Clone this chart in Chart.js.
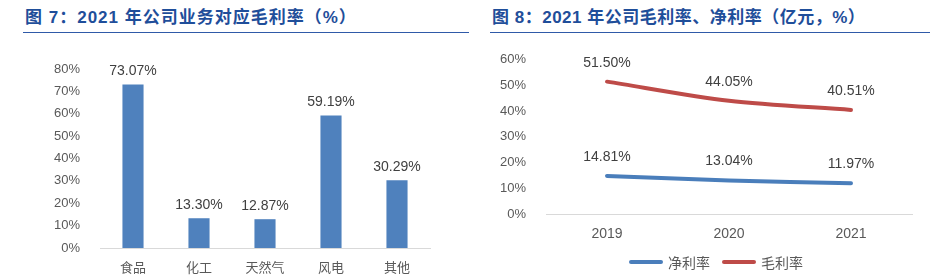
<!DOCTYPE html>
<html>
<head>
<meta charset="utf-8">
<script src="https://cdn.jsdelivr.net/npm/chart.js@4"></script>
<style>
  body { margin: 0; width: 930px; height: 277px; background: #fff; position: relative; overflow: hidden;
         font-family: "Liberation Sans", "Noto Sans CJK SC", sans-serif; }
  .title { position: absolute; top: 3px; font-size: 17px; font-weight: bold; color: #1F4E9A; letter-spacing: 1px;
           border-bottom: 1.5px solid #2F5AA8; padding: 0 0 4px 2px; white-space: nowrap; }
  .box { position: absolute; top: 40px; height: 237px; }
  .leg { position: absolute; top: 252px; font: 14px "Noto Sans CJK SC", sans-serif; color: #595959; line-height: 20px; }
  .leg i { position: absolute; top: 8px; width: 34px; height: 4px; border-radius: 2px; }
</style>
</head>
<body>
<div class="title" style="left:23px; width:444px;">图 7：2021 年公司业务对应毛利率（%）</div>
<div class="title" style="left:490px; width:440px; letter-spacing:0.5px;">图 8：2021 年公司毛利率、净利率（亿元，%）</div>
<div class="box" style="left:0; width:470px;"><canvas id="bar"></canvas></div>
<div class="box" style="left:470px; width:460px;"><canvas id="line"></canvas></div>
<div class="leg" id="leg" style="left:0; width:930px;"></div>
<script>
// business segments, gross margin 2021 (%)
const segments = ["食品", "化工", "天然气", "风电", "其他"];
const segMargin = [73.07, 13.30, 12.87, 59.19, 30.29];

// company margins by year (%)
const years = ["2019", "2020", "2021"];
const netMargin = [14.81, 13.04, 11.97];
const grossMargin = [51.50, 44.05, 40.51];
const seriesNames = ["净利率", "毛利率"];
const seriesColors = ["#4A7EBB", "#BE4B48"];

const tickColor = "#595959";
const labelColor = "#404040";
const latin = "'Liberation Sans', 'Noto Sans CJK SC', sans-serif";
const cjk = "'Noto Sans CJK SC', sans-serif";

// draws value labels above each bar / point
const valueLabels = {
    id: "valueLabels",
    afterDatasetsDraw(chart, args, opts) {
        const ctx = chart.ctx;
        ctx.save();
        ctx.font = "14px " + latin;
        ctx.fillStyle = labelColor;
        ctx.textAlign = "center";
        ctx.textBaseline = "middle";
        chart.data.datasets.forEach((ds, i) => {
            chart.getDatasetMeta(i).data.forEach((el, j) => {
                ctx.fillText(ds.data[j].toFixed(2) + "%", el.x, el.y - opts.offset);
            });
        });
        ctx.restore();
    }
};

new Chart(document.getElementById("bar"), {
    type: "bar",
    data: {
        labels: segments,
        datasets: [{ data: segMargin, backgroundColor: "#4F81BD", barPercentage: 0.32, categoryPercentage: 1 }]
    },
    plugins: [valueLabels],
    options: {
        responsive: true,
        maintainAspectRatio: false,
        animation: false,
        layout: { padding: { top: 29, right: 40, left: 0, bottom: 0 } },
        plugins: {
            legend: { display: false },
            tooltip: { enabled: false },
            valueLabels: { offset: 13 }
        },
        scales: {
            x: {
                grid: { display: false },
                border: { color: "#D9D9D9", width: 1 },
                ticks: { color: tickColor, font: { size: 13, family: cjk }, padding: 3 },
                afterFit: (s) => { s.height = 29; }
            },
            y: {
                min: 0, max: 80,
                grid: { display: false },
                border: { display: false },
                ticks: { stepSize: 10, color: tickColor, font: { size: 13, family: latin }, padding: 12,
                         callback: (v) => v + "%" },
                afterFit: (s) => { s.width = 100; }
            }
        }
    }
});

const lineChart = new Chart(document.getElementById("line"), {
    type: "line",
    data: {
        labels: years,
        datasets: [
            { label: seriesNames[0], data: netMargin, borderColor: seriesColors[0],
              borderWidth: 4, pointRadius: 0, tension: 0.3, borderCapStyle: "round" },
            { label: seriesNames[1], data: grossMargin, borderColor: seriesColors[1],
              borderWidth: 4, pointRadius: 0, tension: 0.3, borderCapStyle: "round" }
        ]
    },
    plugins: [valueLabels],
    options: {
        responsive: true,
        maintainAspectRatio: false,
        animation: false,
        layout: { padding: { top: 19, right: 18, left: 0, bottom: 30 } },
        plugins: {
            legend: { display: false },
            tooltip: { enabled: false },
            valueLabels: { offset: 19 }
        },
        scales: {
            x: {
                offset: true,
                grid: { display: false },
                border: { color: "#D9D9D9", width: 1 },
                ticks: { color: tickColor, font: { size: 14, family: latin }, padding: 4 },
                afterFit: (s) => { s.height = 33; }
            },
            y: {
                min: 0, max: 60,
                grid: { display: false },
                border: { display: false },
                ticks: { stepSize: 10, color: tickColor, font: { size: 13, family: latin }, padding: 12,
                         callback: (v) => v + "%" },
                afterFit: (s) => { s.width = 76; }
            }
        }
    }
});

// legend for the line chart, placed under the plot
const legX = [629, 722];
const leg = document.getElementById("leg");
lineChart.data.datasets.forEach((ds, i) => {
    const item = document.createElement("span");
    item.style.position = "absolute";
    item.style.left = legX[i] + "px";
    item.innerHTML = `<i style="background:${ds.borderColor}"></i><span style="margin-left:39px">${ds.label}</span>`;
    leg.appendChild(item);
});
</script>
</body>
</html>
